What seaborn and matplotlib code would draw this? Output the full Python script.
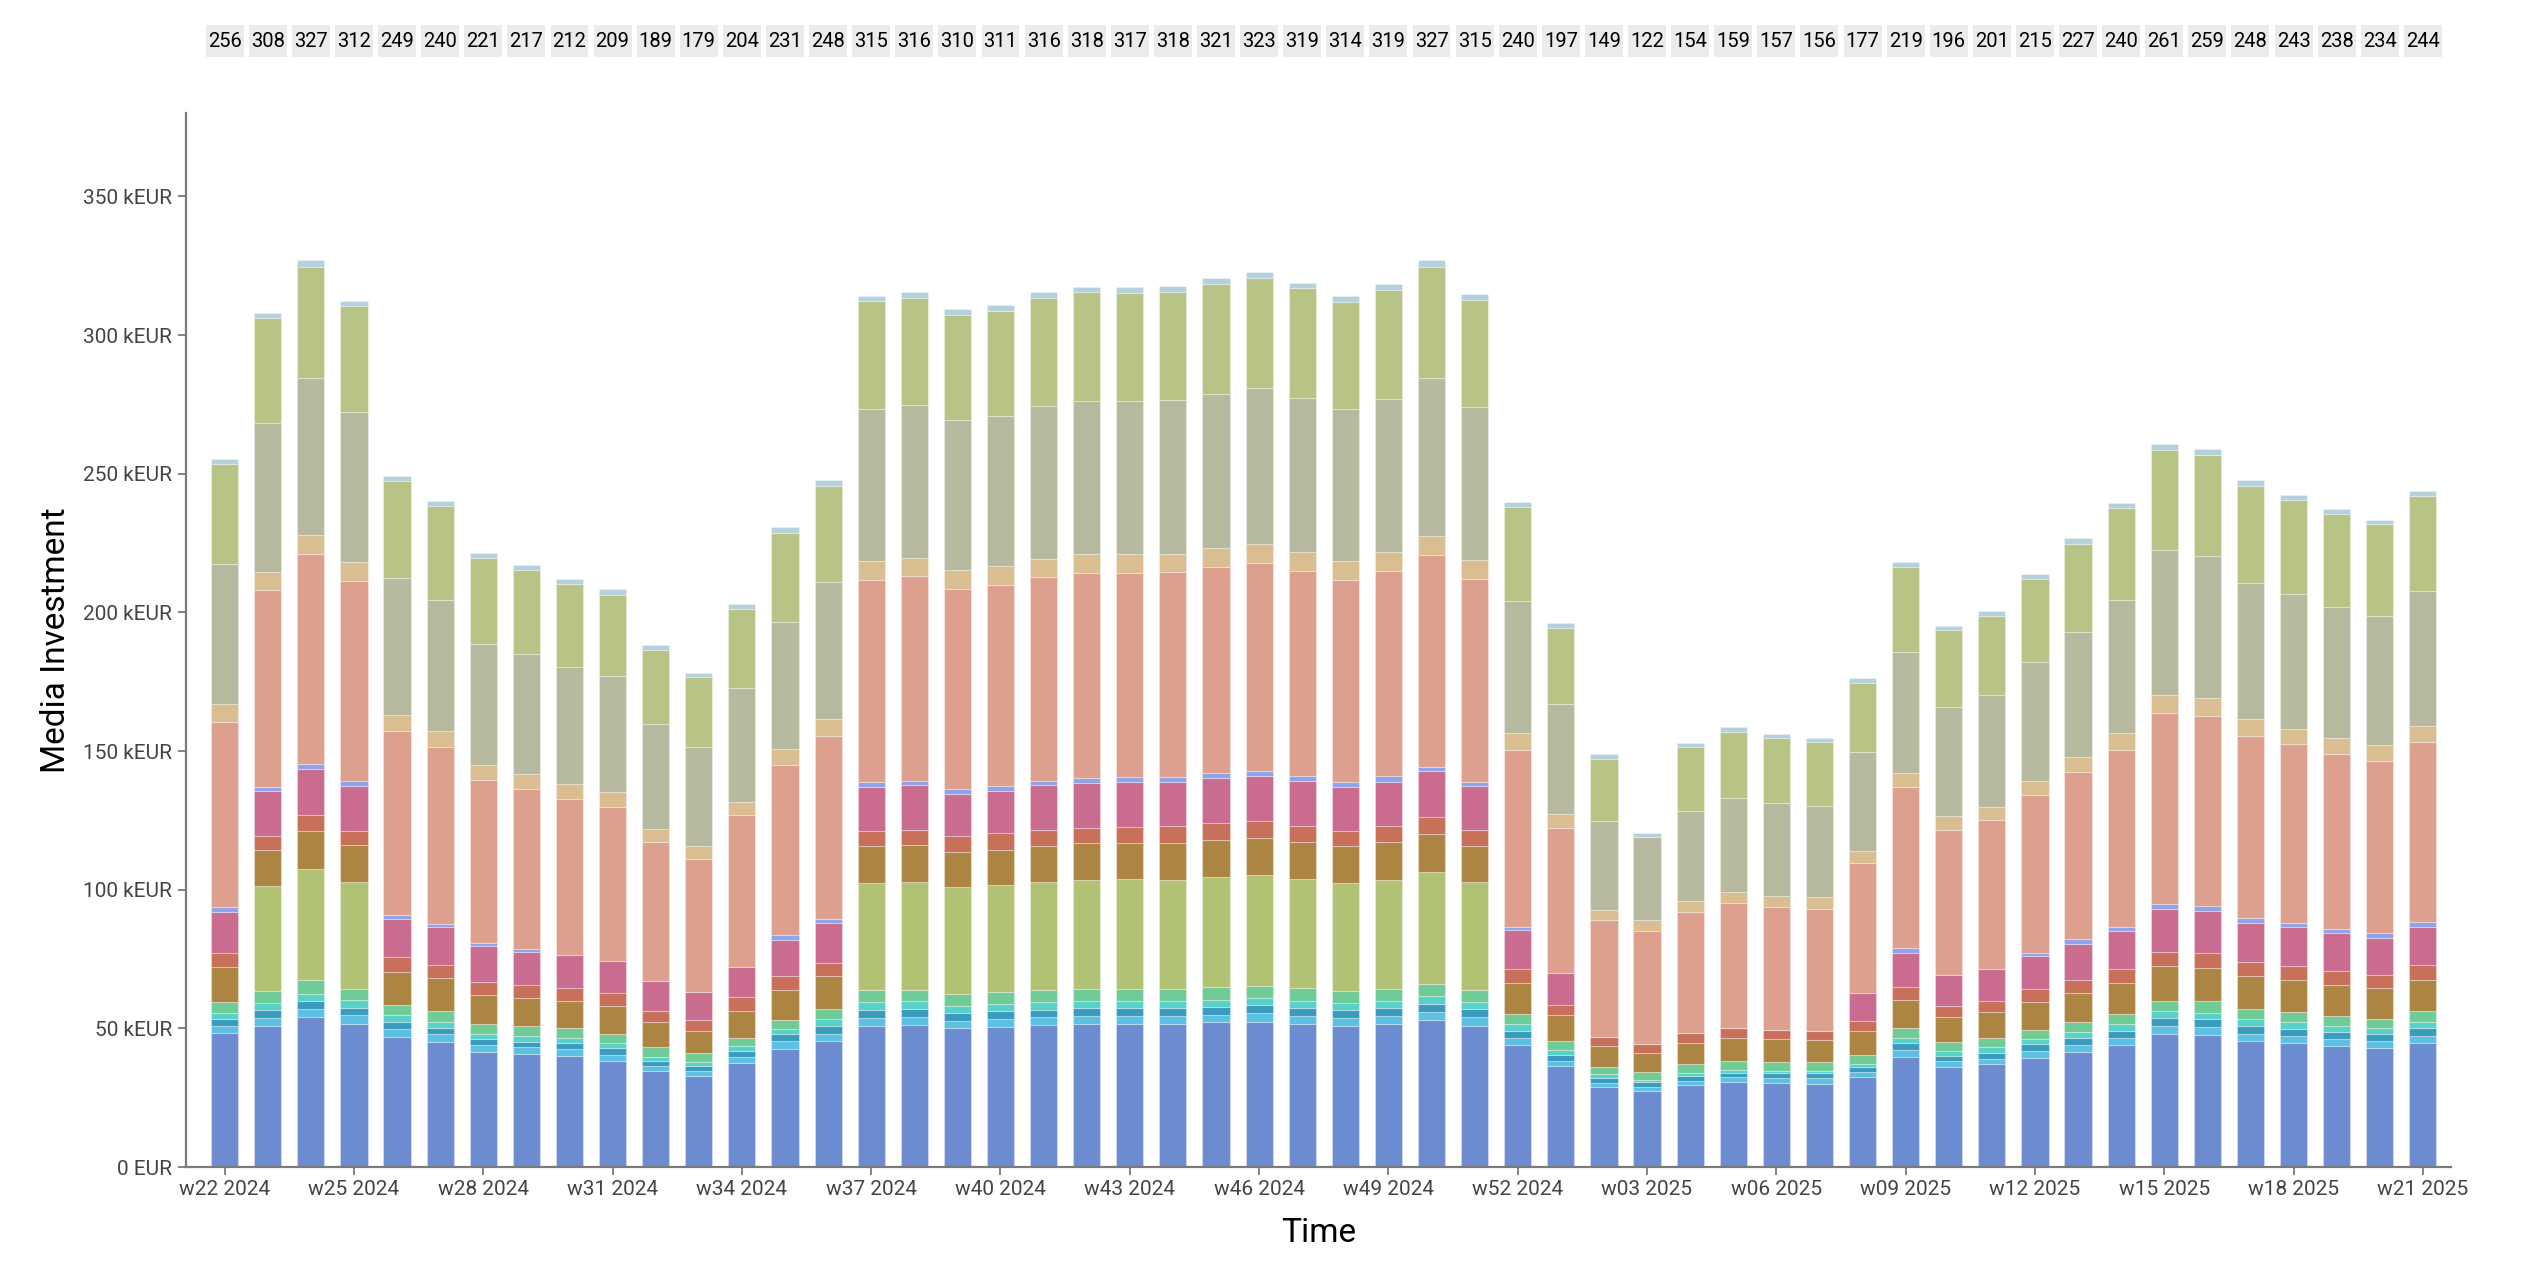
import matplotlib
matplotlib.use("Agg")
import matplotlib.pyplot as plt
import matplotlib.transforms as mtransforms
from matplotlib.patches import Rectangle
from matplotlib.ticker import FuncFormatter
import pandas as pd
import seaborn as sns

# weeks w22 2024 .. w21 2025
weeks = [f"w{w:02d} 2024" for w in range(22, 53)] + [f"w{w:02d} 2025" for w in range(1, 22)]

# totals shown in the boxes above the bars (kEUR)
totals = [256, 308, 327, 312, 249, 240, 221, 217, 212, 209, 189, 179, 204, 231, 248, 315, 316, 310,
          311, 316, 318, 317, 318, 321, 323, 319, 314, 319, 327, 315, 240, 197, 149, 122, 154, 159,
          157, 156, 177, 219, 196, 201, 215, 227, 240, 261, 259, 248, 243, 238, 234, 244]

# channel values in kEUR, listed bottom to top of the stack
blue = [48.2, 50.8, 54.0, 51.7, 46.9, 45.2, 41.6, 40.9, 40.2, 38.4, 34.6, 32.7, 37.5, 42.7, 45.5, 51.0, 51.2, 50.0,
        50.5, 51.2, 51.5, 51.5, 51.5, 52.2, 52.4, 51.7, 51.0, 51.7, 52.9, 51.0, 44.1, 36.3, 28.7, 27.5, 29.6, 30.8,
        30.4, 30.1, 32.3, 39.8, 36.0, 37.0, 39.4, 41.5, 44.1, 48.1, 47.7, 45.5, 44.6, 43.6, 42.9, 44.8]
sky = [2.5, 2.9, 3.0, 3.0, 2.7, 2.6, 2.3, 2.3, 2.5, 2.1, 1.9, 1.9, 2.3, 2.6, 2.6, 2.8, 2.8, 2.8,
       2.8, 2.8, 2.8, 2.8, 2.8, 2.8, 3.1, 2.8, 2.8, 2.8, 3.1, 3.1, 2.4, 2.1, 1.7, 1.4, 1.4, 1.7,
       1.7, 1.9, 1.9, 2.4, 2.1, 2.1, 2.4, 2.6, 2.6, 2.8, 2.8, 2.6, 2.6, 2.6, 2.6, 2.6]
teal = [2.7, 2.8, 2.9, 2.7, 2.8, 2.5, 2.3, 2.0, 2.1, 2.4, 1.9, 1.7, 2.2, 2.6, 2.9, 2.9, 3.1, 2.8,
        2.8, 2.8, 3.1, 3.1, 3.1, 2.8, 2.8, 2.8, 2.8, 2.8, 2.8, 2.8, 2.6, 2.1, 1.7, 1.7, 1.7, 1.4,
        1.7, 1.9, 1.9, 2.4, 1.9, 2.1, 2.4, 2.4, 2.4, 2.8, 2.8, 2.8, 2.6, 2.4, 2.6, 2.6]
turquoise = [2.3, 2.8, 2.6, 2.8, 2.3, 2.1, 1.8, 1.9, 1.6, 1.7, 1.4, 1.4, 1.6, 1.7, 2.4, 2.8, 2.6, 2.6,
             2.6, 2.6, 2.6, 2.6, 2.6, 2.6, 2.6, 2.6, 2.6, 2.6, 2.8, 2.6, 2.4, 1.7, 1.4, 0.9, 1.2, 1.2,
             0.9, 0.7, 1.2, 2.1, 1.9, 2.1, 1.9, 2.1, 2.4, 2.4, 2.4, 2.4, 2.4, 2.4, 1.9, 2.4]
green = [3.9, 4.1, 4.8, 4.1, 3.9, 3.9, 3.7, 3.7, 3.6, 3.5, 3.4, 3.3, 3.1, 3.3, 3.5, 4.3, 4.3, 4.3,
         4.3, 4.5, 4.3, 4.3, 4.3, 4.5, 4.5, 4.5, 4.3, 4.3, 4.5, 4.3, 3.6, 3.1, 2.6, 2.8, 3.1, 3.3,
         3.1, 3.1, 3.1, 3.3, 3.1, 3.1, 3.3, 3.6, 3.6, 3.8, 4.0, 3.6, 3.6, 3.6, 3.3, 3.8]
olive = [0, 37.9, 40.2, 38.6, 0, 0, 0, 0, 0, 0, 0, 0, 0, 0, 0, 38.6, 38.9, 38.4,
         38.8, 38.9, 39.1, 39.4, 39.1, 39.6, 39.8, 39.4, 38.9, 39.4, 40.3, 38.9, 0, 0, 0, 0, 0, 0,
         0, 0, 0, 0, 0, 0, 0, 0, 0, 0, 0, 0, 0, 0, 0, 0]
brown = [12.4, 13.1, 13.5, 13.1, 11.7, 11.7, 10.5, 10.1, 9.9, 10.0, 9.0, 8.1, 9.7, 11.1, 11.9, 13.3, 13.3, 12.8,
         12.6, 13.0, 13.5, 13.3, 13.5, 13.3, 13.5, 13.3, 13.3, 13.5, 13.8, 13.0, 11.4, 9.5, 7.4, 6.9, 7.8, 8.1,
         8.3, 8.1, 8.5, 10.4, 9.2, 9.5, 10.2, 10.7, 11.4, 12.6, 12.1, 11.9, 11.6, 10.9, 11.1, 11.4]
red = [5.3, 5.0, 6.0, 5.3, 5.3, 4.8, 4.6, 4.8, 4.6, 4.5, 4.2, 4.0, 4.8, 4.8, 4.9, 5.5, 5.5, 5.7,
       5.9, 5.7, 5.5, 5.7, 5.9, 6.2, 5.9, 5.9, 5.5, 5.7, 5.9, 5.7, 5.0, 3.8, 3.3, 3.3, 3.6, 3.6,
       3.3, 3.3, 3.8, 4.5, 4.0, 4.0, 4.5, 4.7, 5.0, 5.2, 5.5, 5.0, 5.0, 5.2, 5.0, 5.2]
pink = [14.7, 16.1, 16.5, 16.0, 14.0, 13.6, 12.9, 11.9, 12.0, 11.6, 10.7, 10.0, 11.1, 13.2, 14.3, 15.9, 15.9, 15.2,
        15.4, 16.1, 16.1, 16.1, 16.1, 16.1, 16.4, 16.1, 15.9, 16.1, 16.6, 15.9, 13.8, 11.4, 0, 0, 0, 0,
        0, 0, 10.0, 12.3, 11.1, 11.6, 11.9, 12.8, 13.5, 15.2, 14.9, 14.2, 14.0, 13.8, 13.3, 13.8]
periwinkle = [1.6, 1.4, 1.9, 1.9, 1.3, 1.3, 1.1, 1.2, 0, 0, 0, 0, 0, 1.7, 1.6, 1.6, 1.7, 1.7,
              1.7, 1.7, 1.9, 1.7, 1.9, 1.9, 1.9, 1.9, 1.7, 2.1, 1.7, 1.7, 1.4, 0, 0, 0, 0, 0,
              0, 0, 0, 1.7, 0, 0, 1.2, 1.7, 1.7, 1.9, 1.9, 1.7, 1.7, 1.4, 1.7, 1.7]
salmon = [67.0, 71.2, 75.5, 72.1, 66.2, 63.7, 58.6, 57.6, 56.3, 55.8, 50.0, 48.0, 54.6, 61.2, 65.7, 73.1, 73.7, 72.3,
          72.3, 73.5, 73.7, 73.7, 73.7, 74.2, 74.9, 74.0, 73.0, 74.0, 76.4, 73.0, 63.8, 52.4, 42.2, 40.6, 43.4, 45.1,
          44.3, 44.1, 47.0, 58.1, 52.4, 53.8, 56.9, 60.2, 63.8, 69.0, 68.5, 65.7, 64.3, 63.1, 62.1, 65.0]
tan = [6.5, 6.6, 6.9, 6.7, 5.9, 5.9, 5.5, 5.3, 5.3, 5.2, 4.8, 4.5, 4.9, 5.7, 6.2, 6.8, 6.6, 6.6,
       6.9, 6.6, 6.9, 6.9, 6.6, 6.9, 6.9, 6.9, 6.6, 6.6, 6.9, 6.9, 5.9, 5.0, 3.8, 3.8, 4.0, 4.0,
       4.0, 4.0, 4.3, 5.2, 5.0, 4.7, 5.2, 5.7, 5.9, 6.4, 6.4, 6.2, 5.7, 5.7, 5.7, 5.9]
khaki = [50.5, 53.6, 56.8, 54.4, 49.4, 47.3, 43.7, 43.2, 42.2, 41.7, 37.9, 35.8, 40.8, 46.0, 49.3, 54.8, 55.0, 54.1,
         54.1, 55.0, 55.3, 55.0, 55.3, 55.7, 56.2, 55.5, 55.0, 55.5, 56.7, 55.0, 47.7, 39.6, 31.8, 30.1, 32.7, 33.9,
         33.4, 33.0, 35.8, 43.4, 39.1, 40.3, 42.9, 44.8, 47.9, 52.2, 51.5, 49.1, 48.4, 47.2, 46.5, 48.6]
lime = [36.0, 37.9, 39.9, 38.1, 35.0, 33.8, 31.0, 30.3, 29.9, 29.4, 26.6, 25.4, 28.7, 32.2, 34.9, 38.7, 38.9, 37.9,
        37.9, 38.9, 39.1, 39.1, 39.1, 39.6, 39.8, 39.4, 38.4, 39.1, 40.3, 38.7, 33.9, 27.5, 22.5, 0, 23.0, 23.7,
        23.5, 23.2, 24.9, 30.8, 27.7, 28.5, 29.9, 32.0, 33.4, 36.3, 36.3, 34.9, 34.1, 33.4, 33.0, 34.1]
ice = [1.8, 1.8, 2.5, 1.8, 1.6, 1.8, 1.8, 1.8, 1.8, 2.0, 1.7, 1.5, 1.7, 2.0, 2.0, 2.1, 2.1, 2.1,
       2.1, 2.1, 2.1, 2.1, 2.1, 2.1, 2.1, 2.1, 2.1, 2.1, 2.4, 2.1, 1.7, 1.7, 1.7, 1.4, 1.4, 1.7,
       1.7, 1.4, 1.7, 1.7, 1.7, 1.7, 1.9, 1.9, 1.9, 2.1, 2.1, 2.1, 1.9, 1.9, 1.7, 1.9]

series = {
    "blue": (blue, "#6c8bd1"),
    "sky": (sky, "#5cc0e2"),
    "teal": (teal, "#3a9bbf"),
    "turquoise": (turquoise, "#58d1c8"),
    "green": (green, "#6fcc96"),
    "olive": (olive, "#b1c274"),
    "brown": (brown, "#ad8543"),
    "red": (red, "#c8705a"),
    "pink": (pink, "#ca6c90"),
    "periwinkle": (periwinkle, "#8fa2ec"),
    "salmon": (salmon, "#dda08e"),
    "tan": (tan, "#dbbd92"),
    "khaki": (khaki, "#b7b99e"),
    "lime": (lime, "#b7c485"),
    "ice": (ice, "#b4d2dc"),
}

rows = []
for name, (vals, _) in series.items():
    for i, v in enumerate(vals):
        rows.append({"week": i, "channel": name, "value": v})
df = pd.DataFrame(rows)
palette = {name: c for name, (_, c) in series.items()}
# seaborn stacks the last hue level at the bottom
hue_order = list(series.keys())[::-1]

sns.set_theme(style="white")
plt.rcParams["font.family"] = ["Roboto", "DejaVu Sans"]

fig, ax = plt.subplots(figsize=(25.22, 12.86), dpi=100)
fig.subplots_adjust(left=0.0737, right=0.9718, bottom=0.0925, top=0.912)

sns.histplot(data=df, x="week", weights="value", hue="channel", hue_order=hue_order,
             multiple="stack", discrete=True, shrink=0.63, palette=palette, alpha=1,
             edgecolor=(1, 1, 1, 0.3), linewidth=0.8, legend=False, ax=ax)

ax.set_xlim(-0.9, len(weeks) - 0.35)
ax.set_ylim(0, 380)
ax.set_xticks(range(0, len(weeks), 3))
ax.set_xticklabels(weeks[::3])
ax.set_yticks(range(0, 351, 50))
ax.yaxis.set_major_formatter(FuncFormatter(lambda v, p: "0 EUR" if v == 0 else f"{v:.0f} kEUR"))

for side in ["top", "right"]:
    ax.spines[side].set_visible(False)
for side in ["left", "bottom"]:
    ax.spines[side].set_color("#7a7a7a")
    ax.spines[side].set_linewidth(1.6)
ax.tick_params(axis="both", which="major", length=6, width=1.3, color="#7a7a7a",
               labelsize=15, labelcolor="#444444", direction="out")
ax.tick_params(axis="x", pad=3)
ax.tick_params(axis="y", pad=4)
ax.tick_params(left=True, bottom=True)

ax.set_xlabel("Time", fontsize=24, color="black", labelpad=13)
ax.set_ylabel("Media Investment", fontsize=24, color="black", labelpad=8,
              family=["Liberation Sans Narrow", "Roboto"])

# total labels above the plot, each on a light grey box
trans = mtransforms.blended_transform_factory(ax.transData, fig.transFigure)
for i, t in enumerate(totals):
    ax.add_patch(Rectangle((i - 0.44, 0.9557), 0.88, 0.0249, transform=trans,
                           facecolor="#ebebeb", edgecolor="none", clip_on=False))
    ax.text(i, 0.968, str(t), transform=trans, ha="center", va="center", fontsize=14.5,
            color="black")

fig.savefig("out.png", dpi=100)
